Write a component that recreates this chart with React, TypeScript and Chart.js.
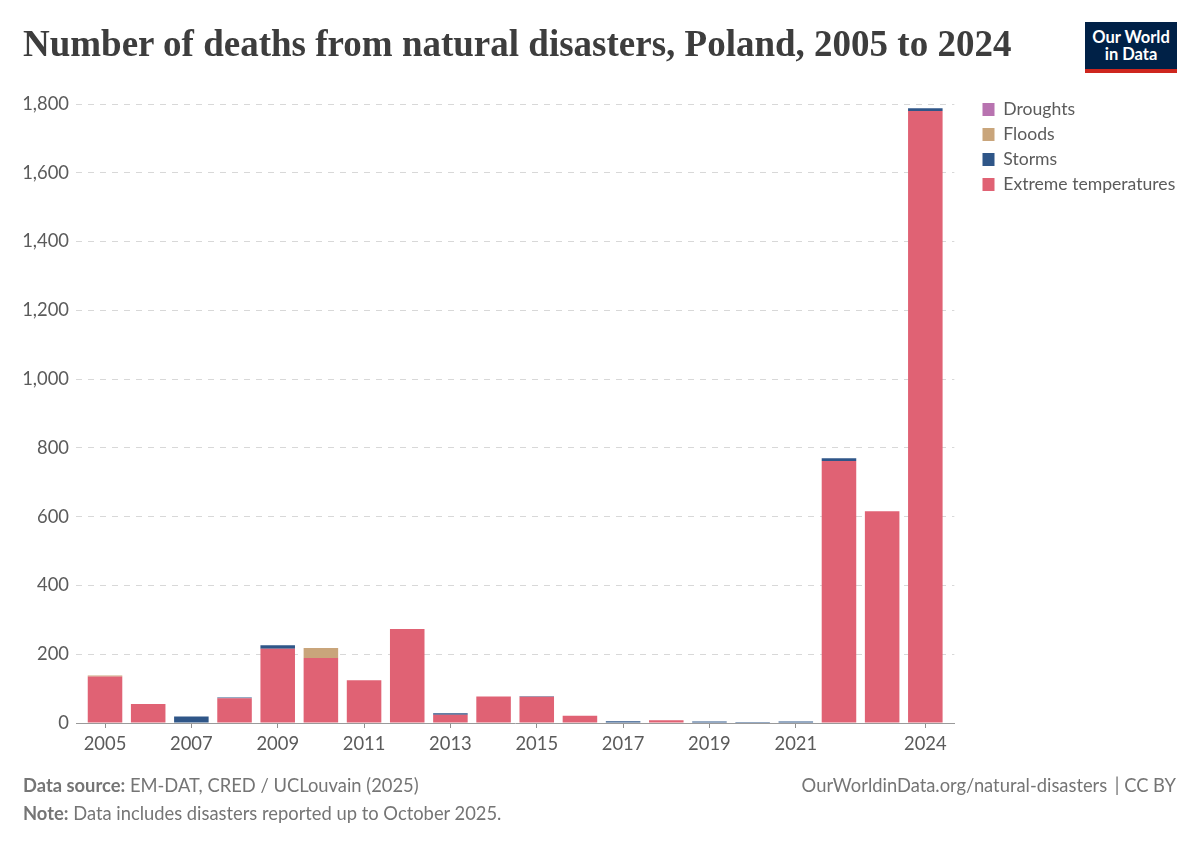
import React, { useEffect, useRef } from 'react';
import { Chart, registerables } from 'chart.js';

Chart.register(...registerables);

const years = [2005, 2006, 2007, 2008, 2009, 2010, 2011, 2012, 2013, 2014, 2015, 2016, 2017, 2018, 2019, 2020, 2021, 2022, 2023, 2024];
const extremeTemperatures = [135, 55, 0, 72, 216, 189, 124, 273, 24, 77, 76, 21, 0, 8, 0, 0, 0, 762, 616, 1780];
const storms = [0, 0, 19, 2, 10, 0, 0, 0, 4, 0, 2, 0, 5, 0, 4, 3, 4, 8, 0, 8];
const floods = [3, 0, 0, 0, 0, 29, 0, 0, 0, 0, 0, 0, 0, 0, 0, 0, 0, 0, 0, 0];
const droughts = [0, 0, 0, 0, 0, 0, 0, 0, 0, 0, 0, 0, 0, 0, 0, 0, 0, 0, 0, 0];
const xTickYears = [2005, 2007, 2009, 2011, 2013, 2015, 2017, 2019, 2021, 2024];

const LABEL_COLOR = '#5b5b5b';

// moves the legend to where OWID has it, layout only reserves the width
const legendPosition = {
  id: 'legendPosition',
  afterLayout(chart: any) {
    const legend = chart.legend;
    legend.left = 975.1;
    legend.top = 93.3;
    // legend clips to its own box when drawing
    legend.right = 1200;
    legend.bottom = 300;
  },
};

const App: React.FC = () => {
  const chartRef = useRef<HTMLCanvasElement>(null);

  useEffect(() => {
    if (!chartRef.current) return;

    const chart = new Chart(chartRef.current, {
      type: 'bar',
      data: {
        labels: years,
        datasets: [
          { label: 'Extreme temperatures', data: extremeTemperatures, backgroundColor: '#e06274' },
          { label: 'Storms', data: storms, backgroundColor: '#2f5688' },
          { label: 'Floods', data: floods, backgroundColor: '#c9a57b' },
          { label: 'Droughts', data: droughts, backgroundColor: '#b873b0' },
        ],
      },
      options: {
        animation: false,
        responsive: false,
        datasets: { bar: { categoryPercentage: 1, barPercentage: 0.8 } },
        layout: { padding: { top: 104, right: 35.5, left: 0, bottom: 0 } },
        plugins: {
          tooltip: { enabled: false },
          legend: {
            position: 'right',
            align: 'start',
            reverse: true,
            onClick: () => {},
            labels: {
              boxWidth: 12,
              boxHeight: 13,
              padding: 7.4,
              color: LABEL_COLOR,
              font: { family: 'Lato', size: 17.6 },
            },
          },
        },
        scales: {
          x: {
            type: 'linear',
            stacked: true,
            offset: false,
            min: 2004.328,
            max: 2024.672,
            afterBuildTicks: (scale: any) => {
              scale.ticks = xTickYears.map((value) => ({ value }));
            },
            afterFit: (scale: any) => {
              scale.height = 124;
            },
            grid: { offset: false, drawOnChartArea: false, tickLength: 5, color: '#8f8f8f' },
            border: { color: '#9a9a9a', width: 1 },
            ticks: {
              autoSkip: false,
              maxRotation: 0,
              padding: 5,
              color: LABEL_COLOR,
              font: { family: 'Lato', size: 18.4 },
              callback: (value: any) => String(value),
            },
          },
          y: {
            stacked: true,
            min: 0,
            max: 1800,
            afterFit: (scale: any) => {
              scale.width = 76;
            },
            grid: { color: '#d8d8d8', drawTicks: false },
            border: { display: false, dash: [6, 6] },
            ticks: {
              stepSize: 200,
              padding: 7,
              color: LABEL_COLOR,
              font: { family: 'Lato', size: 18.4 },
            },
          },
        },
      },
      plugins: [legendPosition],
    });

    return () => {
      chart.destroy();
    };
  }, []);

  return (
    <div style={{ position: 'absolute', left: 0, top: 0, width: 1200, height: 847, background: '#fff', fontFamily: 'Lato' }}>
      <canvas ref={chartRef} width={1200} height={847} style={{ display: 'block' }}></canvas>
      <div style={{ position: 'absolute', left: 23, top: 21, fontFamily: 'Liberation Serif', fontWeight: 700, fontSize: 37, lineHeight: '46px', color: '#3d3d3d', whiteSpace: 'nowrap' }}>
        Number of deaths from natural disasters, Poland, 2005 to 2024
      </div>
      <div style={{ position: 'absolute', left: 1085, top: 22, width: 92, height: 51, background: '#002147', borderBottom: '4px solid #ce261e', boxSizing: 'border-box', color: '#fff', fontWeight: 700, fontSize: 16.5, lineHeight: '17px', textAlign: 'center', paddingTop: 7 }}>
        Our World<br />in Data
      </div>
      <div style={{ position: 'absolute', left: 23, top: 774, fontSize: 18.35, lineHeight: '22px', color: '#757575', whiteSpace: 'nowrap' }}>
        <b>Data source:</b> EM-DAT, CRED / UCLouvain (2025)
      </div>
      <div style={{ position: 'absolute', left: 23, top: 802, fontSize: 18.35, lineHeight: '22px', color: '#757575', whiteSpace: 'nowrap' }}>
        <b>Note:</b> Data includes disasters reported up to October 2025.
      </div>
      <div style={{ position: 'absolute', right: 24, top: 774, fontSize: 18.35, lineHeight: '22px', color: '#757575', whiteSpace: 'nowrap' }}>
        OurWorldinData.org/natural-disasters <span style={{ marginLeft: 3 }}>|</span> CC BY
      </div>
    </div>
  );
};

export default App;
